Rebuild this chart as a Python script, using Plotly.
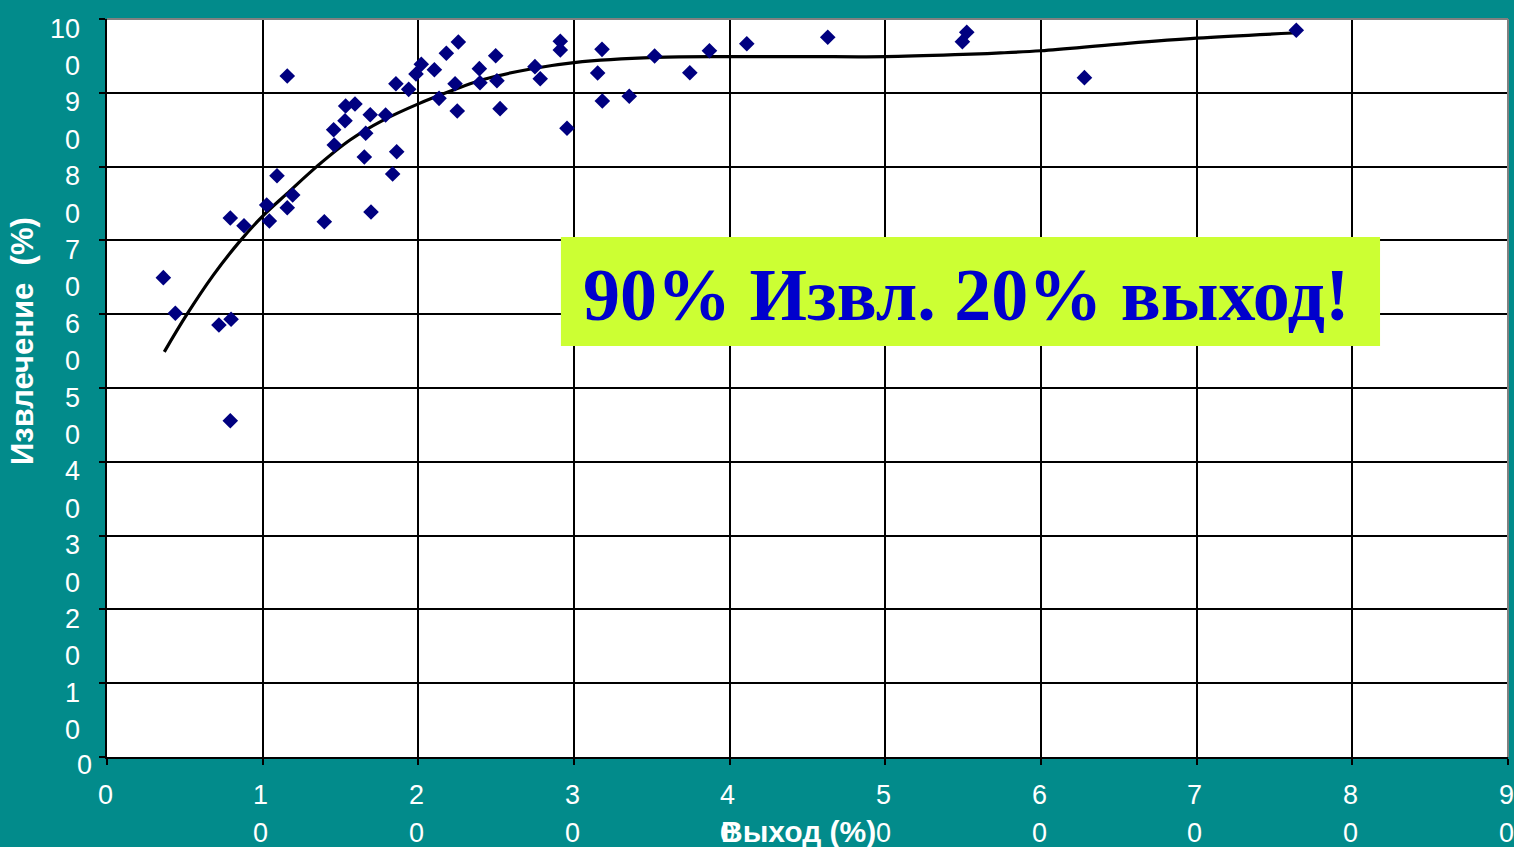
import plotly.graph_objects as go

# ---- data ----
yield_pct = [3.62, 4.39, 7.19, 7.97, 7.92, 7.92, 8.80, 10.26, 10.43, 10.92,
             11.58, 11.93, 11.58, 13.96, 14.60, 14.56, 15.29, 15.33, 15.93, 16.53,
             16.62, 16.91, 16.96, 17.90, 18.35, 18.61, 18.56, 19.38, 19.85, 20.19,
             21.03, 21.33, 21.80, 22.57, 22.36, 22.50, 23.92, 23.96, 24.97, 25.05,
             25.25, 27.49, 27.83, 29.12, 29.12, 29.55, 31.80, 31.52, 31.82, 33.55,
             35.18, 37.44, 38.70, 41.10, 46.30, 55.23, 54.95, 62.79, 76.40]
recovery_pct = [64.95, 60.12, 58.54, 59.31, 45.56, 73.04, 71.99, 74.80, 72.63, 78.77,
                74.43, 76.15, 92.28, 72.53, 82.93, 85.00, 86.22, 88.21, 88.48, 81.30,
                84.51, 87.03, 73.85, 86.99, 79.00, 82.02, 91.23, 90.47, 92.55, 93.86,
                93.13, 89.25, 95.35, 96.88, 91.23, 87.53, 93.27, 91.37, 95.03, 91.64,
                87.85, 93.54, 91.91, 96.98, 95.80, 85.19, 95.89, 92.68, 88.89, 89.53,
                94.99, 92.72, 95.70, 96.65, 97.52, 98.20, 96.93, 92.05, 98.47]

trend_x = [3.68, 5.11, 6.83, 8.54, 10.0, 11.54, 13.47, 15.61, 17.75, 20.0, 22.03,
           24.17, 27.39, 30.0, 35.26, 40.0, 45.0, 50.0, 55.0, 57.4, 60.0, 65.0, 70.0, 76.2]
trend_y = [54.9, 59.9, 65.3, 69.9, 73.3, 76.3, 80.0, 83.6, 86.3, 88.5, 90.2,
           91.8, 93.3, 94.1, 94.8, 94.9, 94.9, 94.9, 95.2, 95.4, 95.7, 96.6, 97.4, 98.1]

x_tick_vals = [0, 10, 20, 30, 40, 50, 60, 70, 80, 90]
x_tick_labels = ["0", "1|0", "2|0", "3|0", "4|0", "5|0", "6|0", "7|0", "8|0", "9|0"]
y_tick_vals = [0, 10, 20, 30, 40, 50, 60, 70, 80, 90, 100]
y_tick_labels = ["0", "1|0", "2|0", "3|0", "4|0", "5|0", "6|0", "7|0", "8|0", "9|0", "10|0"]

x_title = "Выход (%)"
y_title = "Извлечение\u00a0\u00a0(%)"
callout_text = "90% Извл. 20% выход!"

BG = "#028B8B"
SANS = "Liberation Sans, Arial, sans-serif"
SERIF = "Liberation Serif, Times New Roman, serif"

fig = go.Figure()
fig.add_trace(go.Scatter(x=trend_x, y=trend_y, mode="lines",
                         line=dict(color="black", width=3.2, shape="spline", smoothing=1.0),
                         hoverinfo="skip", showlegend=False))
fig.add_trace(go.Scatter(x=yield_pct, y=recovery_pct, mode="markers",
                         marker=dict(symbol="diamond", size=12, color="#000080",
                                     line=dict(width=0)),
                         showlegend=False))

axis_common = dict(showgrid=True, gridcolor="black", gridwidth=2, showline=True,
                   linecolor="black", linewidth=2, ticks="outside", ticklen=6,
                   tickcolor="black", tickwidth=2, showticklabels=False, zeroline=False)
fig.update_xaxes(range=[0, 90], tickvals=x_tick_vals, **axis_common)
fig.update_yaxes(range=[0, 100], tickvals=y_tick_vals, **axis_common)

ann = []
tick_font = dict(family=SANS, size=27, color="white")
for v, lab in zip(y_tick_vals, y_tick_labels):
    lines = lab.split("|")
    if len(lines) == 1:
        ann.append(dict(text=lines[0], xref="paper", yref="y", x=0, y=v,
                        xanchor="right", yanchor="middle", xshift=-13, yshift=-8,
                        showarrow=False, font=tick_font))
    else:
        for i, t in enumerate(lines):
            ann.append(dict(text=t, xref="paper", yref="y", x=0, y=v,
                            xanchor="right", yanchor="middle", xshift=-25,
                            yshift=-(9.5 + 37.5 * i), showarrow=False, font=tick_font))
for v, lab in zip(x_tick_vals, x_tick_labels):
    for i, t in enumerate(lab.split("|")):
        ann.append(dict(text=t, xref="x", yref="paper", x=v, y=0,
                        xanchor="center", yanchor="middle", xshift=-2,
                        yshift=-(38 + 38 * i), showarrow=False, font=tick_font))

ann.append(dict(text="<b>" + x_title + "</b>", xref="paper", yref="paper",
                x=(798 - 107) / 1401, y=0, xanchor="center", yanchor="middle",
                yshift=-74, showarrow=False, font=dict(family=SANS, size=30, color="white")))
ann.append(dict(text="<b>" + y_title + "</b>", xref="paper", yref="paper",
                x=(22 - 107) / 1401, y=(757 - 341) / 738, xanchor="center", yanchor="middle",
                textangle=-90, showarrow=False,
                font=dict(family=SANS, size=31, color="white")))
ann.append(dict(text="<b>" + callout_text + "</b>", xref="x", yref="y",
                x=55.2, y=62.6, xanchor="center", yanchor="middle", showarrow=False,
                font=dict(family=SERIF, size=74, color="#0000CC")))

shapes = [
    dict(type="rect", xref="x", yref="y", x0=29.16, x1=81.78, y0=55.69, y1=70.46,
         fillcolor="#CCFF33", line=dict(width=0), layer="above"),
    dict(type="line", xref="paper", yref="paper", x0=0, x1=1, y0=1, y1=1,
         line=dict(color="#808080", width=2), layer="above"),
    dict(type="line", xref="paper", yref="paper", x0=1, x1=1, y0=0, y1=1,
         line=dict(color="#808080", width=2), layer="above"),
]

fig.update_layout(width=1514, height=847, autosize=False,
                  margin=dict(l=107, r=6, t=19, b=90),
                  paper_bgcolor=BG, plot_bgcolor="white",
                  annotations=ann, shapes=shapes, showlegend=False)

fig.write_html("out.html", config={"displayModeBar": False},
               post_script="document.body.style.margin='0';document.body.style.overflow='hidden';")
